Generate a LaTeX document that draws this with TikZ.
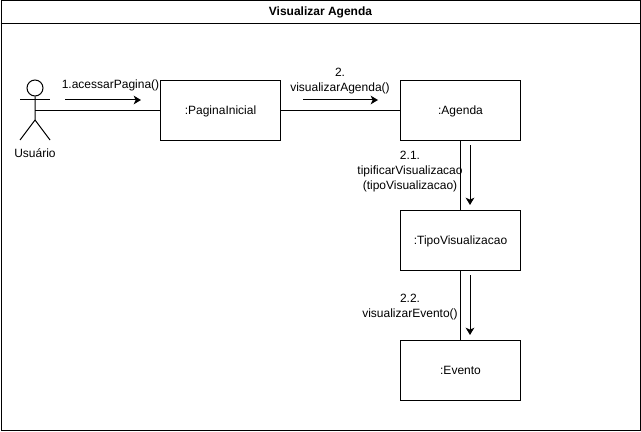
\documentclass[tikz,border=0pt]{standalone}
\usepackage{fontspec}
\setmainfont{Liberation Sans}
\usetikzlibrary{calc}
\usetikzlibrary{positioning}
\usetikzlibrary{arrows.meta}

\begin{document}
\begin{tikzpicture}[x=0.75pt, y=-0.75pt, line width=0.75pt,
        every node/.style={font=\fontsize{9}{11.25}\selectfont},
        box/.style={rectangle, draw=black, minimum width=90pt, minimum height=45pt, inner sep=0pt, outer sep=0pt, text height=7.5pt, text depth=1.5pt},
        msg/.style={align=center, inner sep=0pt},
        link/.style={draw=black},
        flow/.style={-{Stealth[length=5.5pt, width=6.5pt, inset=1.5pt]}}]
            \useasboundingbox (0, 0) rectangle (641, 431);
            \node[rectangle, draw=black, minimum width=479.25pt, minimum height=322.5pt, inner sep=0pt] (frame) at (320.5, 215.5) {};
            \node[inner sep=0pt, font=\fontsize{9}{11.25}\selectfont\bfseries] (title) at (320.5, 12) {Visualizar Agenda};
            \coordinate (titleL) at (0.5, 23.5);
            \coordinate (titleR) at (640.5, 23.5);
            \draw[link] (titleL) -- (titleR);

            % boxes
            \node[box] (pagina) at (220.5, 110.5) {:PaginaInicial};
            \node[box, right=90pt of pagina] (agenda) {:Agenda};
            \node[box, below=52.5pt of agenda] (tipo) {:TipoVisualizacao};
            \node[box, below=52.5pt of tipo] (evento) {:Evento};

            % actor
            \node[circle, draw=black, minimum size=12pt, inner sep=0pt] (head) at (35, 88) {};
            \coordinate (actor) at (35, 110.5);
            \coordinate (hip) at (35, 120);
            \coordinate (armL) at (20, 100);
            \coordinate (armR) at (50, 100);
            \coordinate (legL) at (20, 140);
            \coordinate (legR) at (50, 140);
            \draw[link] (head) -- (hip) -- (legL);
            \draw[link] (hip) -- (legR);
            \draw[link] (armL) -- (armR);
            \node[inner sep=0pt] (usuario) at (35, 153) {Usuário};

            % connectors
            \draw[link] (actor) -- (pagina);
            \draw[link] (pagina) -- (agenda);
            \draw[link] (agenda) -- (tipo);
            \draw[link] (tipo) -- (evento);

            % message arrows
            \foreach \a/\b/\c/\d[count=\i from 1] in {65/100/141/100, 303/100/378/100, 470/145/470/205, 470/275/470/335}
            {
                \coordinate (from\i) at (\a, \b);
                \coordinate (to\i) at (\c, \d);
                \draw[flow] (from\i) -- (to\i);
            }

            % labels
            \node[msg] (msgA) at (110.5, 85) {1.acessarPagina()};
            \node[msg] (msgB) at (340, 81) {2.\\visualizarAgenda()};
            \node[msg] (msgC) at (410, 171.5) {2.1.\\tipificarVisualizacao\\(tipoVisualizacao)};
            \node[msg] (msgD) at (410, 307) {2.2.\\visualizarEvento()};
        \end{tikzpicture}
\end{document}
